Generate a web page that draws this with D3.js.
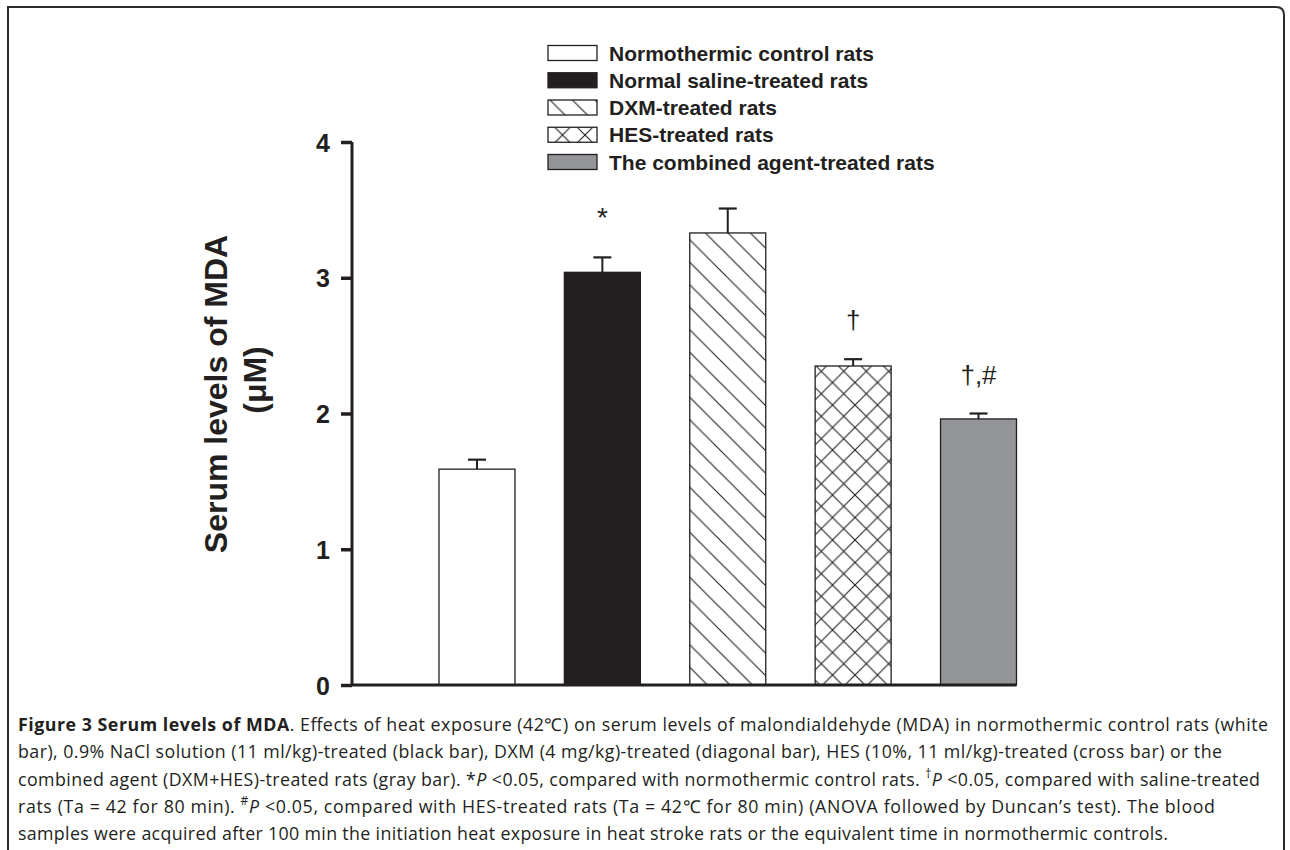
<!DOCTYPE html>
<html>
<head>
<meta charset="utf-8">
<script src="https://cdn.jsdelivr.net/npm/d3@7"></script>
<style>
  html, body { margin: 0; padding: 0; background: #fff; }
  svg { display: block; }
</style>
</head>
<body>
<svg id="chart" width="1290" height="850"></svg>
<script>
// ---- data ----
const groups = [
  "Normothermic control rats",
  "Normal saline-treated rats",
  "DXM-treated rats",
  "HES-treated rats",
  "The combined agent-treated rats"
];
const means = [1.59, 3.04, 3.33, 2.35, 1.96];
const sems = [0.07, 0.11, 0.18, 0.05, 0.04];
const marks = ["", "*", "", "\u2020", "\u2020,#"];
const yTicks = [0, 1, 2, 3, 4];
const yTitle = ["Serum levels of MDA", "(\u03BCM)"];

const captionLines = [
  [{t:"Figure 3 Serum levels of MDA", b:1}, {t:". Effects of heat exposure (42\u2103) on serum levels of malondialdehyde (MDA) in normothermic control rats (white"}],
  [{t:"bar), 0.9% NaCl solution (11 ml/kg)-treated (black bar), DXM (4 mg/kg)-treated (diagonal bar), HES (10%, 11 ml/kg)-treated (cross bar) or the"}],
  [{t:"combined agent (DXM+HES)-treated rats (gray bar). *"}, {t:"P", i:1}, {t:" <0.05, compared with normothermic control rats. "}, {t:"\u2020", sup:1}, {t:"P", i:1}, {t:" <0.05, compared with saline-treated"}],
  [{t:"rats (Ta = 42 for 80 min). "}, {t:"#", sup:1}, {t:"P", i:1}, {t:" <0.05, compared with HES-treated rats (Ta = 42\u2103 for 80 min) (ANOVA followed by Duncan\u2019s test). The blood"}],
  [{t:"samples were acquired after 100 min the initiation heat exposure in heat stroke rats or the equivalent time in normothermic controls."}]
];
// rendered width of each caption line (layout)
const captionWidths = [1250, 1204, 1242, 1197, 1150];

// ---- layout ----
const ink = "#231f20";
const svg = d3.select("#chart");
const defs = svg.append("defs");

// frame
svg.append("path")
  .attr("d", "M8,852 L8,7 L1276,7 Q1284,7 1284,15 L1284,852")
  .attr("fill", "none").attr("stroke", "#2b2b2b").attr("stroke-width", 2);

const y = d3.scaleLinear().domain([0, 4]).range([685, 142]);
const x = d3.scaleBand().domain(groups).range([439, 1016.5]).paddingInner(0.394).paddingOuter(0);
const axisX = 352;

// patterns
const s = 22.5;
const pDiag = defs.append("pattern").attr("id", "diag").attr("patternUnits", "userSpaceOnUse")
  .attr("width", s).attr("height", s);
pDiag.append("rect").attr("width", s).attr("height", s).attr("fill", "#fff");
pDiag.append("path").attr("d", `M0,0L${s},${s}M-2,${s-2}L2,${s+2}M${s-2},-2L${s+2},2`)
  .attr("stroke", ink).attr("stroke-width", 1.1);
const pCross = defs.append("pattern").attr("id", "cross").attr("patternUnits", "userSpaceOnUse")
  .attr("width", s).attr("height", s);
pCross.append("rect").attr("width", s).attr("height", s).attr("fill", "#fff");
pCross.append("path").attr("d", `M0,0L${s},${s}M-2,${s-2}L2,${s+2}M${s-2},-2L${s+2},2M0,${s}L${s},0M-2,2L2,-2M${s-2},${s+2}L${s+2},${s-2}`)
  .attr("stroke", ink).attr("stroke-width", 1.1);

const fills = ["#ffffff", ink, "url(#diag)", "url(#cross)", "#939598"];
const color = d3.scaleOrdinal().domain(groups).range(fills);

// bars
const g = svg.append("g");
g.selectAll("rect.bar").data(groups).join("rect")
  .attr("class", "bar")
  .attr("x", d => x(d))
  .attr("width", x.bandwidth())
  .attr("y", (d, i) => y(means[i]))
  .attr("height", (d, i) => y(0) - y(means[i]))
  .attr("fill", d => color(d))
  .attr("stroke", ink).attr("stroke-width", 1.3);

// error bars
const capW = 18;
groups.forEach((d, i) => {
  const cx = x(d) + x.bandwidth() / 2;
  g.append("line").attr("x1", cx).attr("x2", cx)
    .attr("y1", y(means[i])).attr("y2", y(means[i] + sems[i]))
    .attr("stroke", ink).attr("stroke-width", 2);
  g.append("line").attr("x1", cx - capW / 2).attr("x2", cx + capW / 2)
    .attr("y1", y(means[i] + sems[i])).attr("y2", y(means[i] + sems[i]))
    .attr("stroke", ink).attr("stroke-width", 2.2);
  if (marks[i]) {
    g.append("text").attr("x", cx).attr("y", y(means[i] + sems[i]) - 30)
      .attr("text-anchor", "middle")
      .attr("font-family", "Liberation Sans, Arial, sans-serif")
      .attr("font-size", marks[i] === "*" ? 28 : 26)
      .attr("fill", ink).text(marks[i]);
  }
});

// y axis
const yAxis = d3.axisLeft(y).tickValues(yTicks).tickFormat(d3.format("d")).tickSize(11).tickPadding(11);
const ya = svg.append("g").attr("transform", `translate(${axisX},0)`).call(yAxis);
ya.select(".domain").attr("d", `M0,${y(4)}V${y(0)}`).attr("stroke", ink).attr("stroke-width", 3);
ya.selectAll(".tick line").attr("stroke", ink).attr("stroke-width", 3.5);
ya.selectAll(".tick text").attr("font-family", "Liberation Sans, Arial, sans-serif")
  .attr("font-weight", "bold").attr("font-size", 25).attr("fill", ink).attr("dy", "0.36em");

// x axis baseline
svg.append("line").attr("x1", axisX).attr("x2", x.range()[1])
  .attr("y1", y(0)).attr("y2", y(0)).attr("stroke", ink).attr("stroke-width", 3);

// y title
svg.append("text").attr("transform", "translate(227,394) rotate(-90)")
  .attr("text-anchor", "middle").attr("font-family", "Liberation Sans, Arial, sans-serif")
  .attr("font-weight", "bold").attr("font-size", 32).attr("fill", ink).text(yTitle[0]);
svg.append("text").attr("transform", "translate(266,380) rotate(-90)")
  .attr("text-anchor", "middle").attr("font-family", "Liberation Sans, Arial, sans-serif")
  .attr("font-weight", "bold").attr("font-size", 32).attr("fill", ink).text(yTitle[1]);

// legend
const leg = svg.append("g");
const rowY = d3.scalePoint().domain(groups).range([53, 162]);
groups.forEach((d, i) => {
  leg.append("rect").attr("x", 548).attr("y", rowY(d) - 7.5).attr("width", 49).attr("height", 15)
    .attr("fill", color(d)).attr("stroke", ink).attr("stroke-width", 1.3);
  leg.append("text").attr("x", 609).attr("y", rowY(d)).attr("dy", "0.36em")
    .attr("font-family", "Liberation Sans, Arial, sans-serif").attr("font-weight", "bold")
    .attr("font-size", 21).attr("fill", ink).text(d);
});

// caption
const cap = svg.append("g");
captionLines.forEach((line, li) => {
  const t = cap.append("text").attr("x", 18).attr("y", 731 + li * 27.3)
    .attr("font-family", "Open Sans, sans-serif").attr("font-size", 17.8).attr("fill", ink)
    .attr("textLength", captionWidths[li]).attr("lengthAdjust", "spacing");
  line.forEach(seg => {
    const sp = t.append("tspan").text(seg.t);
    if (seg.b) sp.attr("font-weight", "bold");
    if (seg.i) sp.attr("font-style", "italic");
    if (seg.sup) sp.attr("font-size", 12).attr("baseline-shift", "super");
  });
});
</script>
</body>
</html>
